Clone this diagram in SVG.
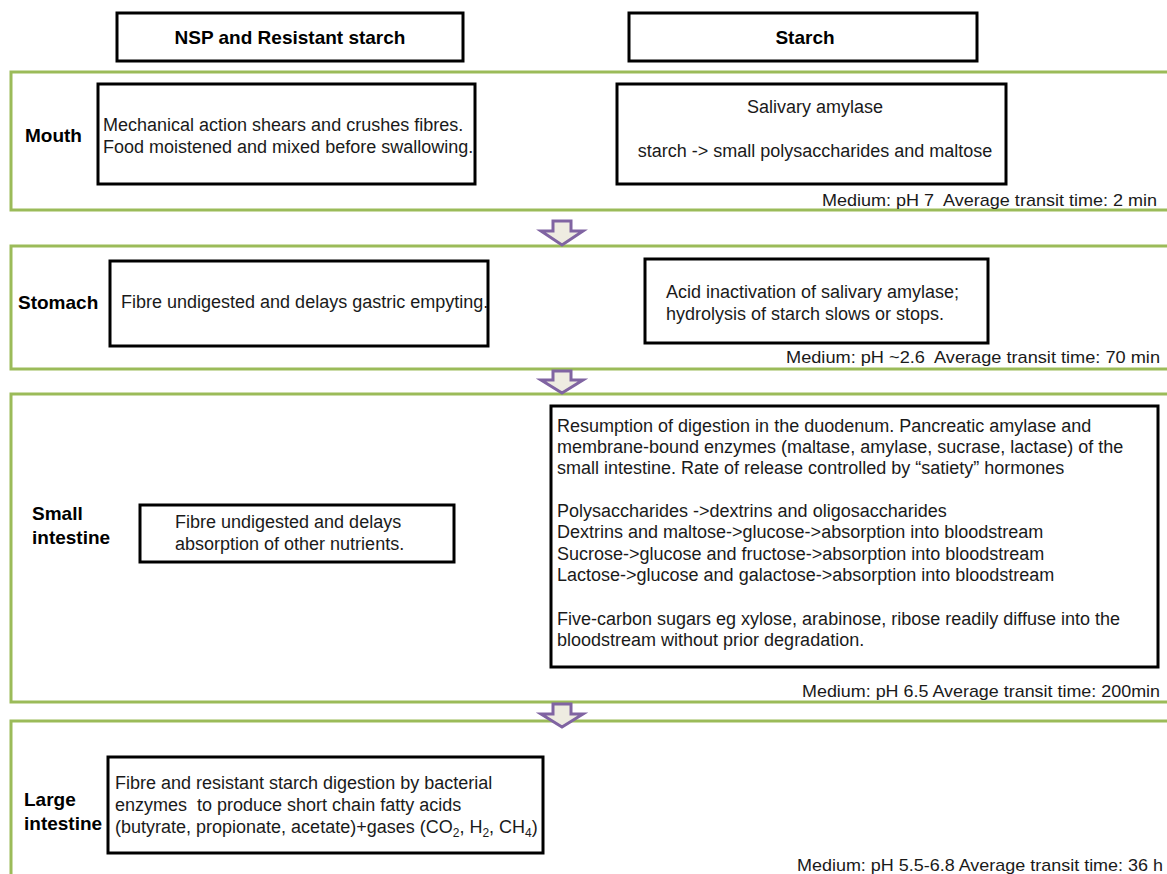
<svg xmlns="http://www.w3.org/2000/svg" width="1167" height="874" viewBox="0 0 1167 874">
<style>
.frame{fill:none;stroke:#9BBB59;stroke-width:3}
.box{fill:#fff;stroke:#000;stroke-width:3}
.hdr{font-family:"Liberation Sans",Arial,sans-serif;font-size:19px;font-weight:bold;fill:#000}
.lbl{font-family:"Liberation Sans",Arial,sans-serif;font-size:19px;font-weight:bold;fill:#000}
.t{font-family:"Liberation Sans",Arial,sans-serif;font-size:18px;fill:#1a1a1a;white-space:pre}
.med{font-family:"Liberation Sans",Arial,sans-serif;font-size:17px;fill:#1a1a1a;text-anchor:end;white-space:pre}
.arr{fill:#EEECE1;stroke:#8064A2;stroke-width:3;stroke-linejoin:miter}
</style>
<rect width="1167" height="874" fill="#fff"/>

<g id="header-nsp">
<rect class="box" x="117" y="13" width="346" height="48"/>
<text class="hdr" x="290" y="44" text-anchor="middle">NSP and Resistant starch</text>
</g>
<g id="header-starch">
<rect class="box" x="629" y="13" width="348" height="48"/>
<text class="hdr" x="805" y="44" text-anchor="middle">Starch</text>
</g>

<g id="mouth">
<rect class="frame" x="11" y="72" width="1180" height="138"/>
<text class="lbl" x="25" y="142">Mouth</text>
<text class="med" x="1157" y="206" textLength="335" lengthAdjust="spacingAndGlyphs">Medium: pH 7  Average transit time: 2 min</text>
</g>
<g id="mouth-nsp">
<rect class="box" x="98" y="84" width="377" height="100"/>
<text class="t" x="103" y="131">Mechanical action shears and crushes fibres.</text>
<text class="t" x="103" y="153">Food moistened and mixed before swallowing.</text>
</g>
<g id="mouth-starch">
<rect class="box" x="617" y="84" width="389" height="100"/>
<text class="t" x="815" y="113" text-anchor="middle">Salivary amylase</text>
<text class="t" x="815" y="157" text-anchor="middle">starch -&gt; small polysaccharides and maltose</text>
</g>

<g id="stomach">
<rect class="frame" x="11" y="246" width="1180" height="123"/>
<text class="lbl" x="18" y="309">Stomach</text>
<text class="med" x="1160" y="363" textLength="374" lengthAdjust="spacingAndGlyphs">Medium: pH ~2.6  Average transit time: 70 min</text>
</g>
<g id="stomach-nsp">
<rect class="box" x="110" y="261" width="378" height="85"/>
<text class="t" x="121" y="308">Fibre undigested and delays gastric empyting.</text>
</g>
<g id="stomach-starch">
<rect class="box" x="645" y="259" width="343" height="84"/>
<text class="t" x="666" y="298">Acid inactivation of salivary amylase;</text>
<text class="t" x="666" y="320">hydrolysis of starch slows or stops.</text>
</g>

<g id="small-intestine">
<rect class="frame" x="11" y="394" width="1180" height="308"/>
<text class="lbl" x="32" y="520">Small</text>
<text class="lbl" x="32" y="544">intestine</text>
<text class="med" x="1160" y="697" textLength="358" lengthAdjust="spacingAndGlyphs">Medium: pH 6.5 Average transit time: 200min</text>
</g>
<g id="small-intestine-nsp">
<rect class="box" x="140" y="505" width="314" height="57"/>
<text class="t" x="175" y="528">Fibre undigested and delays</text>
<text class="t" x="175" y="550">absorption of other nutrients.</text>
</g>
<g id="small-intestine-starch">
<rect class="box" x="551" y="406" width="607" height="261"/>
<text class="t" x="557" y="432">Resumption of digestion in the duodenum. Pancreatic amylase and</text>
<text class="t" x="557" y="453">membrane-bound enzymes (maltase, amylase, sucrase, lactase) of the</text>
<text class="t" x="557" y="474">small intestine. Rate of release controlled by “satiety” hormones</text>
<text class="t" x="557" y="517">Polysaccharides -&gt;dextrins and oligosaccharides</text>
<text class="t" x="557" y="538">Dextrins and maltose-&gt;glucose-&gt;absorption into bloodstream</text>
<text class="t" x="557" y="560">Sucrose-&gt;glucose and fructose-&gt;absorption into bloodstream</text>
<text class="t" x="557" y="581">Lactose-&gt;glucose and galactose-&gt;absorption into bloodstream</text>
<text class="t" x="557" y="625">Five-carbon sugars eg xylose, arabinose, ribose readily diffuse into the</text>
<text class="t" x="557" y="646">bloodstream without prior degradation.</text>
</g>

<g id="large-intestine">
<rect class="frame" x="11" y="721" width="1180" height="200"/>
<text class="lbl" x="24" y="806">Large</text>
<text class="lbl" x="24" y="830">intestine</text>
<text class="med" x="1163" y="871" textLength="366" lengthAdjust="spacingAndGlyphs">Medium: pH 5.5-6.8 Average transit time: 36 h</text>
</g>
<g id="large-intestine-nsp">
<rect class="box" x="108" y="757" width="435" height="96"/>
<text class="t" x="115" y="789">Fibre and resistant starch digestion by bacterial</text>
<text class="t" x="115" y="811">enzymes  to produce short chain fatty acids</text>
<text class="t" x="115" y="833">(butyrate, propionate, acetate)+gases (CO<tspan font-size="12" dy="4">2</tspan><tspan dy="-4">, H</tspan><tspan font-size="12" dy="4">2</tspan><tspan dy="-4">, CH</tspan><tspan font-size="12" dy="4">4</tspan><tspan dy="-4">)</tspan></text>
</g>

<g id="connectors">
<path class="arr" d="M553,221 H571 V231 H583 L562,245 L541,231 H553 Z"/>
<path class="arr" d="M553,371 H571 V380 H583 L562,393 L541,380 H553 Z"/>
<path class="arr" d="M553,704 H571 V714 H583 L562,727 L541,714 H553 Z"/>
</g>
</svg>
